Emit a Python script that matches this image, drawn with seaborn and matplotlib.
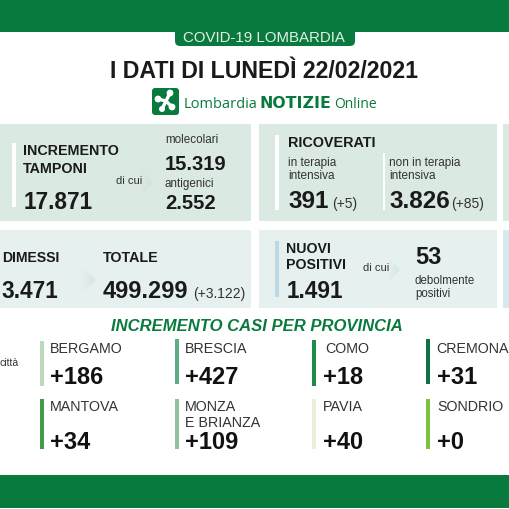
import matplotlib
matplotlib.use("Agg")
import matplotlib.pyplot as plt
import numpy as np
from matplotlib.colors import LinearSegmentedColormap
from matplotlib.patches import FancyBboxPatch, Rectangle, Polygon, Circle
import seaborn as sns

# values
provinces = ["BERGAMO", "BRESCIA", "COMO", "CREMONA", "MANTOVA", "MONZA\nE BRIANZA", "PAVIA", "SONDRIO"]
province_cases = ["+186", "+427", "+18", "+31", "+34", "+109", "+40", "+0"]
tamponi = ["17.871", "15.319", "2.552"]
ricoverati = ["391", "(+5)", "3.826", "(+85)"]
dimessi = ["3.471", "499.299", "(+3.122)"]
positivi = ["1.491", "53"]

# layout of the province strips
prov_strip_x = [40, 175, 312, 426, 40, 175, 312, 426]
prov_strip_y = [(342, 387), (340, 385), (341, 387), (340, 385), (400, 450), (400, 450), (400, 450), (400, 450)]
prov_name_x = [50, 185, 325, 436, 50, 185, 323, 437]
prov_num_x = [50, 185, 323, 437, 50, 185, 323, 437]
prov_colors = ["#bcd9bd", "#5fae83", "#1f8c46", "#0f7242", "#439d47", "#8cc49c", "#e8f1d8", "#7cc242"]

GREEN = "#097a3d"
DARK = "#1a1a1a"
GREY = "#333333"

sns.set_theme(style="white")
plt.rcParams["font.family"] = ["Liberation Sans", "DejaVu Sans"]

fig = plt.figure(figsize=(5.1, 5.1), dpi=100)
ax = fig.add_axes([0, 0, 1, 1])


def txt(x, y, s, size=8, weight="normal", color=DARK, **kw):
    ax.text(x, y, s, fontsize=size, fontweight=weight, color=color, va="baseline", **kw)


def box(x0, y0, x1, y1, color):
    ax.add_patch(Rectangle((x0, y0), x1 - x0, y1 - y0, facecolor=color, edgecolor="none"))


def arrow(x0, x1, ymid, half, c0, c1):
    # triangle that fades out to the left
    cmap = LinearSegmentedColormap.from_list("fade", [c0, c1])
    im = ax.imshow(np.linspace(0, 1, 32).reshape(1, -1), extent=(x0, x1, ymid + half, ymid - half),
                   cmap=cmap, aspect="auto", zorder=2)
    tri = Polygon([(x0, ymid - half), (x1, ymid), (x0, ymid + half)], transform=ax.transData,
                  facecolor="none", edgecolor="none")
    ax.add_patch(tri)
    im.set_clip_path(tri)


# header
box(0, 0, 510, 33, GREEN)
ax.add_patch(FancyBboxPatch((175, 20), 180, 27, boxstyle="round,pad=0,rounding_size=5",
                            facecolor=GREEN, edgecolor="none"))
txt(264, 42, "COVID-19 LOMBARDIA", size=10.8, color="#e4f0e8", ha="center")
txt(264.5, 78, "I DATI DI LUNEDÌ 22/02/2021", size=16.7, weight="bold", ha="center")

# logo
ax.add_patch(FancyBboxPatch((152, 89), 27, 27, boxstyle="round,pad=0,rounding_size=3",
                            facecolor=GREEN, edgecolor="none"))
for cx, cy, r in [(170, 94, 3.4), (158, 100, 3.4), (172, 108, 3.4), (162, 110, 3.0)]:
    ax.add_patch(Circle((cx, cy), r, facecolor="white", edgecolor="none", zorder=3))
    ax.plot([166, cx], [102, cy], color="white", lw=2.4, zorder=3)
txt(184, 108, "Lombardia", size=10.5, color=GREEN, family="Open Sans")
txt(260, 108, "NOTIZIE", size=11.3, weight="bold", color=GREEN, family="DejaVu Sans")
txt(334, 108, "Online", size=10, color=GREEN, family="Open Sans")

# top panels
box(0, 125, 251, 222, "#dae9e1")
box(259, 125, 497, 222, "#dae9e1")
box(503, 125, 510, 222, "#dae9e1")
box(12, 144, 16, 208, "white")
txt(23, 155, "INCREMENTO", size=10.3, weight="bold")
txt(23, 173, "TAMPONI", size=10.3, weight="bold")
txt(24, 209, tamponi[0], size=16.3, weight="bold")
txt(116, 184, "di cui", size=8, color=GREY)
arrow(141, 153, 184, 13, "#dae9e1", "#cfe3db")
txt(165, 143, "molecolari", size=8.4, color=GREY)
txt(165, 170, tamponi[1], size=14.5, weight="bold")
txt(165, 187, "antigenici", size=8.4, color=GREY)
txt(165, 209, tamponi[2], size=14.5, weight="bold")

box(275, 136, 279, 211, "white")
box(383, 154, 385, 211, "white")
txt(288, 147, "RICOVERATI", size=10.4, weight="bold")
txt(288, 166, "in terapia", size=8.5, color=GREY)
txt(288, 179, "intensiva", size=8.5, color=GREY)
txt(288, 208, ricoverati[0], size=17.5, weight="bold")
txt(332, 208, ricoverati[1], size=10, color=GREY)
txt(389, 166, "non in terapia", size=8.5, color=GREY)
txt(389, 179, "intensiva", size=8.5, color=GREY)
txt(389, 208, ricoverati[2], size=17.5, weight="bold")
txt(451, 208, ricoverati[3], size=10, color=GREY)

# middle panels
box(0, 231, 251, 309, "#e6f0ef")
box(259, 231, 497, 309, "#e6f0ef")
box(503, 231, 510, 309, "#d5e9ee")
txt(2, 262, "DIMESSI", size=10.1, weight="bold")
txt(103, 262, "TOTALE", size=10.3, weight="bold")
txt(1, 298, dimessi[0], size=16.3, weight="bold")
arrow(80, 96, 281, 14, "#e6f0ef", "#d3e5e6")
txt(103, 298, dimessi[1], size=16.9, weight="bold")
txt(193, 298, dimessi[2], size=10, color=GREY)

box(275, 242, 279, 298, "#bcd9e3")
txt(286, 253, "NUOVI", size=10.2, weight="bold")
txt(286, 269, "POSITIVI", size=10.2, weight="bold")
txt(287, 298, positivi[0], size=16.3, weight="bold")
txt(363, 271, "di cui", size=8, color=GREY)
arrow(388, 400, 271, 13, "#e6f0ef", "#d3e6e8")
txt(415, 264, positivi[1], size=17, weight="bold")
txt(415, 284, "debolmente", size=8.3, color=GREY)
txt(415, 297, "positivi", size=8.3, color=GREY)

# provinces
txt(256.5, 331, "INCREMENTO CASI PER PROVINCIA", size=12, weight="bold", style="italic", color=GREEN, ha="center")
txt(-1, 366, "città", size=7.5, color=GREY)
for i, name in enumerate(provinces):
    top, bottom = prov_strip_y[i]
    box(prov_strip_x[i], top, prov_strip_x[i] + 4, bottom, prov_colors[i])
    base_name = 353 if i < 4 else 411
    base_num = 384 if i < 4 else 449
    for j, line in enumerate(name.split("\n")):
        txt(prov_name_x[i], base_name + 16 * j, line, size=10.3, color=GREY)
    txt(prov_num_x[i], base_num, province_cases[i], size=17, weight="bold", color="#111111")

# footer
box(0, 476, 510, 509, GREEN)

ax.set_xlim(0, 510)
ax.set_ylim(510, 0)
ax.axis("off")
fig.savefig("out.png", dpi=100)
